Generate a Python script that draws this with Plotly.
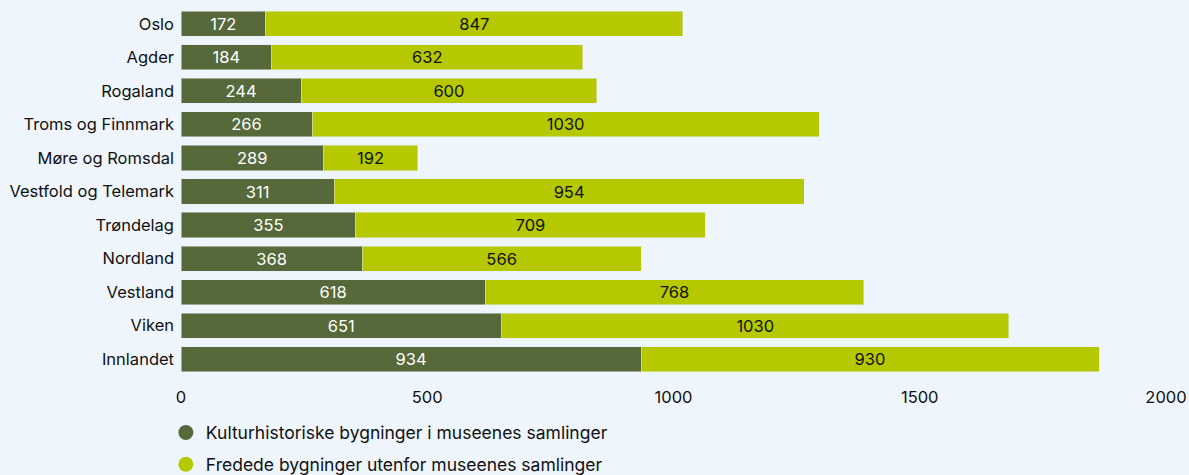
import plotly.graph_objects as go

regions = ["Oslo", "Agder", "Rogaland", "Troms og Finnmark", "Møre og Romsdal",
           "Vestfold og Telemark", "Trøndelag", "Nordland", "Vestland", "Viken", "Innlandet"]
museum = [172, 184, 244, 266, 289, 311, 355, 368, 618, 651, 934]
protected = [847, 632, 600, 1030, 192, 954, 709, 566, 768, 1030, 930]
series_names = ["Kulturhistoriske bygninger i museenes samlinger",
                "Fredede bygninger utenfor museenes samlinger"]
tick_vals = [0, 500, 1000, 1500, 2000]

dark = "#56693a"
lime = "#b5c800"
bg = "#eef5fc"
font = "Inter, Roboto, sans-serif"

fig = go.Figure()
fig.add_trace(go.Bar(y=regions, x=museum, orientation="h", marker_color=dark,
                     text=museum, textposition="inside", insidetextanchor="middle",
                     constraintext="none",
                     textfont=dict(color="white", size=16.5, family=font),
                     showlegend=False, hoverinfo="x+y"))
fig.add_trace(go.Bar(y=regions, x=protected, orientation="h", marker_color=lime,
                     text=protected, textposition="inside", insidetextanchor="middle",
                     constraintext="none",
                     textfont=dict(color="#111111", size=16.5, family=font),
                     showlegend=False, hoverinfo="x+y"))
for i, (nm, col) in enumerate(zip(series_names, [dark, lime])):
    fig.add_trace(go.Scatter(x=[None], y=[None], mode="markers", name=nm,
                             legendgroup=f"g{i}",
                             marker=dict(color=col, size=15, symbol="circle")))

fig.update_layout(
    barmode="stack", bargap=0.25,
    width=1189, height=475,
    margin=dict(l=181, r=23, t=7, b=99, autoexpand=False),
    paper_bgcolor=bg, plot_bgcolor=bg,
    font=dict(family=font, size=16.5, color="#111111"),
    uniformtext=dict(mode=False),
    legend=dict(orientation="v", xref="container", x=0.1395, xanchor="left",
                yref="container", y=0.127, yanchor="top",
                traceorder="grouped", tracegroupgap=6, font=dict(size=17.5),
                bgcolor="rgba(0,0,0,0)", itemwidth=30),
)
fig.update_xaxes(range=[0, 2000], tickvals=tick_vals, showgrid=False, zeroline=False,
                 showline=False, ticks="", tickfont=dict(size=16.5), ticklabelstandoff=9,
                 automargin=False)
fig.update_yaxes(categoryorder="array", categoryarray=regions, autorange="reversed",
                 showgrid=False, zeroline=False, showline=False, ticks="",
                 ticklabelstandoff=6, tickfont=dict(size=16.5), automargin=False)

fig.write_html("out.html", config={"displayModeBar": False},
               post_script="document.body.style.margin='0';document.body.style.background='#eef5fc';")
